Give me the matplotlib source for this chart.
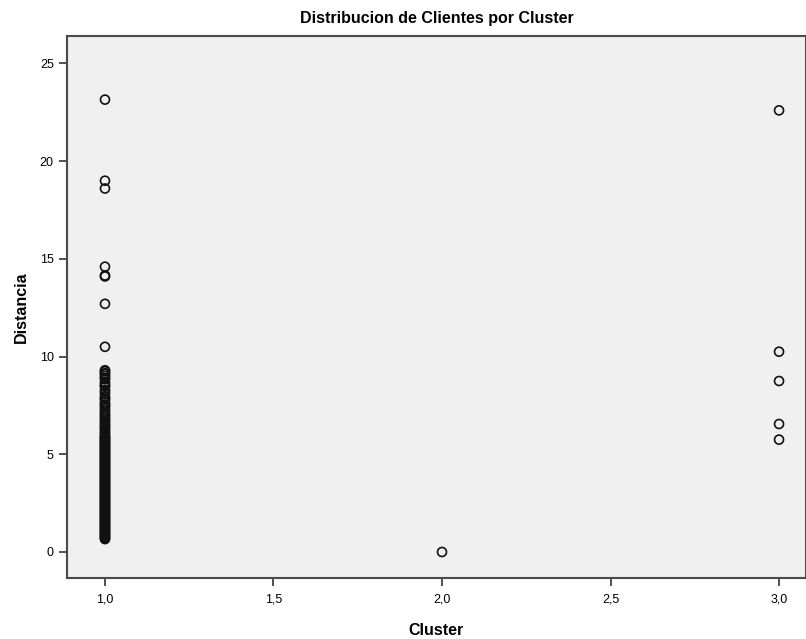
import matplotlib.pyplot as plt

plt.rcParams['font.family'] = ['Liberation Sans', 'DejaVu Sans']

# Distancia de cada cliente al centro de su cluster
dist_c1 = [23.15, 19.0, 18.6, 14.6, 14.15, 14.1, 12.7, 10.5,
           9.3, 9.25, 9.15, 9.1, 9.0, 8.9, 8.85, 8.7, 8.6, 8.5, 8.45, 8.3,
           8.2, 8.1, 7.95, 7.85, 7.8, 7.65, 7.55, 7.5, 7.4, 7.3, 7.2, 7.1,
           7.0, 6.95, 6.85, 6.75, 6.7, 6.6, 6.5, 6.45, 6.35, 6.3, 6.2, 6.1,
           6.05, 5.95, 5.9, 5.85, 5.8, 5.75, 5.7, 5.65, 5.6, 5.55, 5.5,
           5.45, 5.4, 5.35, 5.3, 5.25, 5.2, 5.15, 5.1, 5.05, 5.0, 4.95,
           4.9, 4.85, 4.8, 4.75, 4.7, 4.65, 4.6, 4.55, 4.5, 4.45, 4.4,
           4.35, 4.3, 4.25, 4.2, 4.15, 4.1, 4.05, 4.0, 3.95, 3.9, 3.85,
           3.8, 3.75, 3.7, 3.65, 3.6, 3.55, 3.5, 3.45, 3.4, 3.35, 3.3,
           3.25, 3.2, 3.15, 3.1, 3.05, 3.0, 2.95, 2.9, 2.85, 2.8, 2.75,
           2.7, 2.65, 2.6, 2.55, 2.5, 2.45, 2.4, 2.35, 2.3, 2.25, 2.2,
           2.15, 2.1, 2.05, 2.0, 1.95, 1.9, 1.85, 1.8, 1.75, 1.7, 1.65,
           1.6, 1.55, 1.5, 1.45, 1.4, 1.35, 1.3, 1.25, 1.2, 1.15, 1.1,
           1.05, 1.0, 0.95, 0.9, 0.85, 0.8, 0.75, 0.7, 0.66]
dist_c2 = [0.0]
dist_c3 = [22.6, 10.25, 8.75, 6.55, 5.75]

clusters = [1.0] * len(dist_c1) + [2.0] * len(dist_c2) + [3.0] * len(dist_c3)
distancias = dist_c1 + dist_c2 + dist_c3

fig = plt.figure(figsize=(8.06, 6.39), dpi=100)
ax = fig.add_axes([0.083, 0.0955, 0.917, 0.848])
ax.set_facecolor('#f0f0f0')

ax.scatter(clusters, distancias, s=42, facecolors='none', edgecolors='#111111', linewidths=1.2)

ax.set_xlim(0.887, 3.08)
ax.set_ylim(-1.33, 26.4)
ax.set_xticks([1.0, 1.5, 2.0, 2.5, 3.0])
ax.set_xticklabels(['1,0', '1,5', '2,0', '2,5', '3,0'])
ax.set_yticks([0, 5, 10, 15, 20, 25])
ax.tick_params(axis='both', labelsize=9, length=6, width=1.2, color='#333333', direction='out')
ax.tick_params(axis='x', pad=5)

for lado in ['left', 'bottom', 'top', 'right']:
    ax.spines[lado].set_color('#4a4a4a')
    ax.spines[lado].set_linewidth(1.5)

ax.set_title('Distribucion de Clientes por Cluster', fontsize=11.5, fontweight='bold', pad=9.5)
ax.set_xlabel('Cluster', fontsize=11.5, fontweight='bold', labelpad=13)
ax.set_ylabel('Distancia', fontsize=11.5, fontweight='bold', labelpad=8)

plt.savefig('out.png', dpi=100)
